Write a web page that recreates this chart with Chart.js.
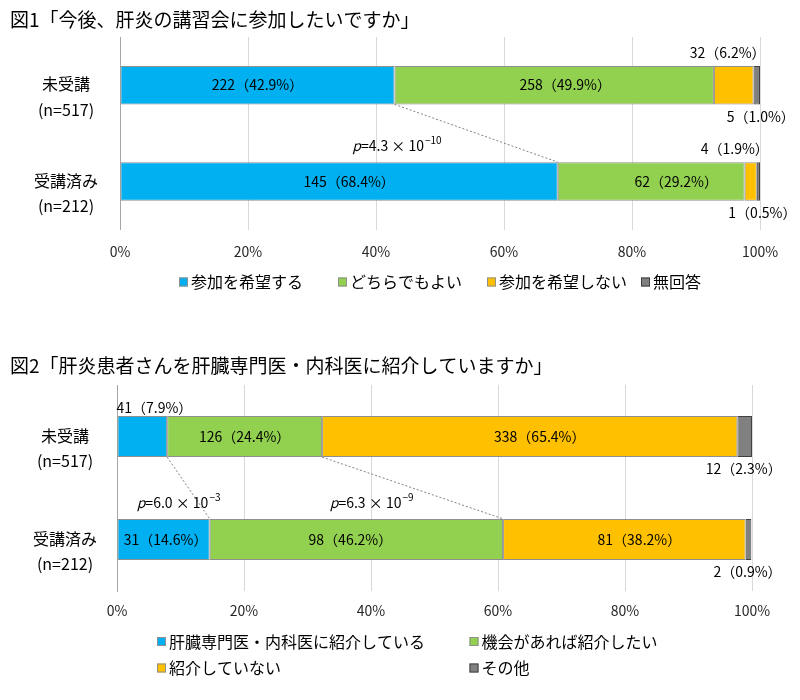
<!DOCTYPE html>
<html lang="ja">
<head>
<meta charset="utf-8">
<script src="https://cdn.jsdelivr.net/npm/chart.js@4.4.1/dist/chart.umd.min.js"></script>
<style>
html,body{margin:0;padding:0;background:#fff;}
#wrap{position:relative;width:800px;height:700px;background:#fff;}
canvas{position:absolute;left:0;}
#c1{top:0;}
#c2{top:340px;}
</style>
</head>
<body>
<div id="wrap">
<canvas id="c1" width="800" height="330" style="width:800px;height:330px"></canvas>
<canvas id="c2" width="800" height="360" style="width:800px;height:360px"></canvas>
</div>
<script>
// ---------- DATA: Figure 1 ----------
const title1 = '図1「今後、肝炎の講習会に参加したいですか」';
const groups1 = [['未受講', '(n=517)'], ['受講済み', '(n=212)']];
const series1 = ['参加を希望する', 'どちらでもよい', '参加を希望しない', '無回答'];
const counts1 = [[222, 145], [258, 62], [32, 4], [5, 1]];          // per series: [未受講, 受講済み]
const pct1 = [[42.9, 68.4], [49.9, 29.2], [6.2, 1.9], [1.0, 0.5]];
const pMant1 = ['4.3'];
const pExp1 = ['−10'];
const pBoundary1 = [1];   // connector after the first series

// ---------- DATA: Figure 2 ----------
const title2 = '図2「肝炎患者さんを肝臓専門医・内科医に紹介していますか」';
const groups2 = [['未受講', '(n=517)'], ['受講済み', '(n=212)']];
const series2 = ['肝臓専門医・内科医に紹介している', '機会があれば紹介したい', '紹介していない', 'その他'];
const counts2 = [[41, 31], [126, 98], [338, 81], [12, 2]];
const pct2 = [[7.9, 14.6], [24.4, 46.2], [65.4, 38.2], [2.3, 0.9]];
const pMant2 = ['6.0', '6.3'];
const pExp2 = ['−3', '−9'];
const pBoundary2 = [1, 2];

const xTicks = [0, 20, 40, 60, 80, 100];

// ---------- STYLE ----------
const FONT = '"Noto Sans CJK JP", "Noto Sans", sans-serif';
const colors = ['#00B0F0', '#92D050', '#FFC000', '#808080'];
const borders = ['#8f8f8f', '#8f8f8f', '#8f8f8f', '#404040'];
Chart.defaults.font.family = FONT;
Chart.defaults.color = '#000';

const style1 = {
  labelMode: [['in', 'in'], ['in', 'in'], ['above', 'above'], ['below', 'below']],
  labelNudge: [[0, 10], [11, 25], [0, 0], [0, 0]],
  pTextX: [36.3],
  legendPos: [[179, 282], [338, 282], [487, 282], [641, 282]]
};
const style2 = {
  labelMode: [['aboveStart', 'in'], ['in', 'in'], ['in', 'in'], ['below', 'below']],
  labelNudge: [[0, 2], [0, -6], [10, 15], [-5, -5]],
  pTextX: [3.1, 33.5],
  legendPos: [[157, 301.5], [469.5, 301.5], [157, 328], [469.5, 328]]
};

function drawP(ctx, x, y, mant, exp) {
  ctx.save();
  ctx.textBaseline = 'middle';
  ctx.textAlign = 'left';
  ctx.fillStyle = '#000';
  ctx.font = 'italic 14px ' + FONT;
  ctx.fillText('p', x, y);
  x += ctx.measureText('p').width;
  ctx.font = '14px ' + FONT;
  const s = '=' + mant + ' × 10';
  ctx.fillText(s, x, y);
  x += ctx.measureText(s).width + 1;
  ctx.font = '10px ' + FONT;
  ctx.fillText(exp, x, y - 6);
  ctx.restore();
}

const annotPlugin = {
  id: 'annot',
  afterDraw(chart, args, opts) {
    const ctx = chart.ctx;
    const xs = chart.scales.x;
    const ds = chart.data.datasets;
    const bar = (i, j) => chart.getDatasetMeta(i).data[j].getProps(['x', 'base', 'y', 'height'], true);

    // connectors (dotted)
    ctx.save();
    ctx.strokeStyle = '#808080';
    ctx.lineWidth = 1;
    ctx.setLineDash([2, 2]);
    opts.boundaries.forEach(b => {
      const a = bar(b - 1, 0), c = bar(b - 1, 1);
      ctx.beginPath();
      ctx.moveTo(a.x, a.y + a.height / 2);
      ctx.lineTo(c.x, c.y - c.height / 2);
      ctx.stroke();
    });
    ctx.restore();

    // p-values
    opts.pMant.forEach((m, k) => {
      const c = bar(0, 1);
      drawP(ctx, xs.getPixelForValue(opts.style.pTextX[k]), c.y - c.height / 2 - 16, m, opts.pExp[k]);
    });

    // data labels
    ctx.save();
    ctx.font = '14px ' + FONT;
    ctx.fillStyle = '#000';
    ctx.textBaseline = 'middle';
    ds.forEach((d, i) => {
      d.data.forEach((v, j) => {
        const e = bar(i, j);
        const txt = opts.counts[i][j] + '（' + v.toFixed(1) + '%）';
        const mode = opts.style.labelMode[i][j];
        const nx = opts.style.labelNudge[i][j];
        const mid = (e.x + e.base) / 2;
        if (mode === 'in') {
          ctx.textAlign = 'center';
          ctx.fillText(txt, mid + nx, e.y);
        } else if (mode === 'above') {
          ctx.textAlign = 'right';
          ctx.fillText(txt, e.x + 12 + nx, e.y - e.height / 2 - 13);
        } else if (mode === 'aboveStart') {
          ctx.textAlign = 'left';
          ctx.fillText(txt, e.base - 1 + nx, e.y - e.height / 2 - 8);
        } else if (mode === 'below') {
          ctx.textAlign = 'center';
          ctx.fillText(txt, mid + 4 + nx, e.y + e.height / 2 + 12);
        }
      });
    });
    ctx.restore();

    // legend
    ctx.save();
    ctx.font = '16px ' + FONT;
    ctx.textBaseline = 'middle';
    ctx.textAlign = 'left';
    ds.forEach((d, i) => {
      const [lx, ly] = opts.style.legendPos[i];
      ctx.fillStyle = d.backgroundColor;
      ctx.fillRect(lx, ly - 4.5, 9, 9);
      ctx.strokeStyle = d.borderColor;
      ctx.lineWidth = 1;
      ctx.strokeRect(lx + 0.5, ly - 4, 8, 8);
      ctx.fillStyle = '#000';
      ctx.fillText(d.label, lx + 12, ly);
    });
    ctx.restore();
  }
};

function makeChart(id, cfg) {
  const datasets = cfg.series.map((name, i) => ({
    label: name,
    data: cfg.pct[i],
    backgroundColor: colors[i],
    borderColor: borders[i],
    borderWidth: 1,
    borderSkipped: false,
    categoryPercentage: 1,
    barPercentage: 0.4
  }));
  return new Chart(document.getElementById(id), {
    type: 'bar',
    data: { labels: cfg.groups, datasets },
    plugins: [annotPlugin],
    options: {
      indexAxis: 'y',
      responsive: false,
      animation: false,
      devicePixelRatio: 1,
      layout: { padding: cfg.pad },
      plugins: {
        legend: { display: false },
        tooltip: { enabled: false },
        title: {
          display: true,
          text: cfg.title,
          align: 'start',
          color: '#000',
          font: { size: 19, weight: 'normal', family: FONT },
          padding: cfg.titlePad
        },
        annot: {
          counts: cfg.counts,
          boundaries: cfg.boundaries,
          pMant: cfg.pMant,
          pExp: cfg.pExp,
          style: cfg.style
        }
      },
      scales: {
        x: {
          stacked: true,
          min: 0,
          max: 100,
          afterBuildTicks: s => { s.ticks = xTicks.map(v => ({ value: v })); },
          afterFit: s => { s.height = 40; },
          ticks: {
            callback: v => v + '%',
            color: '#262626',
            font: { size: 14, family: FONT },
            padding: cfg.xTickPad,
            maxRotation: 0
          },
          grid: { color: '#d9d9d9', drawTicks: false },
          border: { display: false }
        },
        y: {
          stacked: true,
          afterFit: s => { s.width = cfg.yWidth; s.paddingTop = 0; s.paddingBottom = 0; },
          ticks: {
            color: '#000',
            font: { size: 16, lineHeight: 1.6, family: FONT },
            crossAlign: 'center',
            padding: cfg.yTickPad,
            labelOffset: 12
          },
          grid: { display: false, drawTicks: false },
          border: { display: true, color: '#a6a6a6', width: 1 }
        }
      }
    }
  });
}

makeChart('c1', {
  title: title1, groups: groups1, series: series1, counts: counts1, pct: pct1,
  pMant: pMant1, pExp: pExp1, boundaries: pBoundary1, style: style1,
  pad: { top: 0, left: 10, right: 40, bottom: 60.5 },
  titlePad: { top: 8.6, bottom: 5.6 },
  yWidth: 110, yTickPad: 22, xTickPad: 14
});
makeChart('c2', {
  title: title2, groups: groups2, series: series2, counts: counts2, pct: pct2,
  pMant: pMant2, pExp: pExp2, boundaries: pBoundary2, style: style2,
  pad: { top: 0, left: 10, right: 48, bottom: 69 },
  titlePad: { top: 14.6, bottom: 7.6 },
  yWidth: 107, yTickPad: 20, xTickPad: 11
});
</script>
</body>
</html>
